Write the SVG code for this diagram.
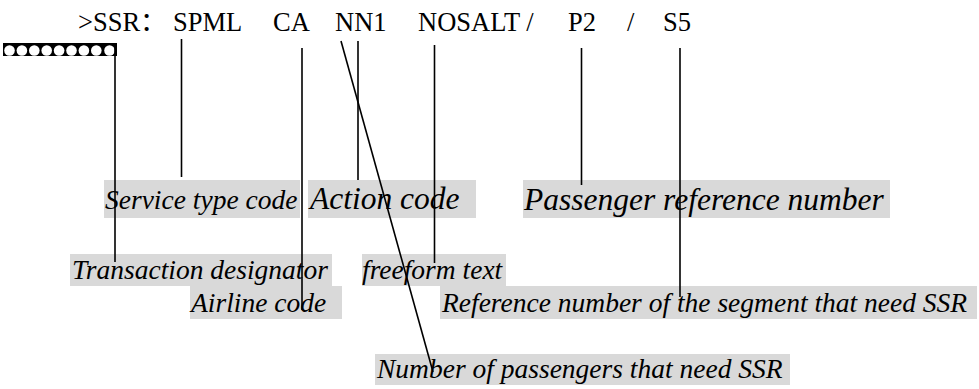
<svg xmlns="http://www.w3.org/2000/svg" width="979" height="389" viewBox="0 0 979 389">
  <style>
    .cmd { font-family: "Liberation Serif", "Times New Roman", "Noto Sans CJK SC", serif; font-size: 26.5px; fill: #000; }
    .lbl { font-family: "Liberation Serif", "Times New Roman", serif; font-style: italic; font-size: 27.5px; fill: #000; }
    .big { font-size: 31.5px; }
    .bg { fill: #d9d9d9; }
    .ln { stroke: #000; stroke-width: 1.6; fill: none; }
  </style>
  <rect width="979" height="389" fill="#fff"/>

  <g id="command">
    <text class="cmd" x="78" y="31">&gt;SSR：</text>
    <text class="cmd" x="173" y="31">SPML</text>
    <text class="cmd" x="273" y="31">CA</text>
    <text class="cmd" x="335" y="31">NN1</text>
    <text class="cmd" x="418" y="31">NOSALT /</text>
    <text class="cmd" x="568" y="31">P2</text>
    <text class="cmd" x="627" y="31">/</text>
    <text class="cmd" x="663" y="31">S5</text>
  </g>

  <g id="marker-row">
    <rect x="3" y="43" width="114" height="13" fill="#000"/>
    <g fill="#fff">
      <circle cx="9.5" cy="50.5" r="5.3"/>
      <circle cx="21.9" cy="50.5" r="5.3"/>
      <circle cx="34.3" cy="50.5" r="5.3"/>
      <circle cx="46.7" cy="50.5" r="5.3"/>
      <circle cx="59.1" cy="50.5" r="5.3"/>
      <circle cx="71.5" cy="50.5" r="5.3"/>
      <circle cx="83.9" cy="50.5" r="5.3"/>
      <circle cx="96.3" cy="50.5" r="5.3"/>
      <circle cx="109.5" cy="50.5" r="5.3"/>
    </g>
  </g>

  <g id="service-type-code">
    <rect class="bg" x="104" y="180" width="196" height="38"/>
    <text class="lbl" x="105" y="209">Service type code</text>
  </g>
  <g id="action-code">
    <rect class="bg" x="308" y="180" width="168" height="38"/>
    <text class="lbl big" x="310" y="209">Action code</text>
  </g>
  <g id="passenger-reference-number">
    <rect class="bg" x="523" y="180" width="367" height="38"/>
    <text class="lbl big" x="524" y="210">Passenger reference number</text>
  </g>
  <g id="transaction-designator">
    <rect class="bg" x="70" y="254" width="262" height="32"/>
    <text class="lbl" x="72" y="279">Transaction designator</text>
  </g>
  <g id="freeform-text">
    <rect class="bg" x="362" y="254" width="144" height="32"/>
    <text class="lbl" x="362" y="279">freeform text</text>
  </g>
  <g id="airline-code">
    <rect class="bg" x="190" y="286" width="152" height="33"/>
    <text class="lbl" x="191" y="312">Airline code</text>
  </g>
  <g id="segment-reference">
    <rect class="bg" x="440" y="286" width="537" height="33"/>
    <text class="lbl" x="442" y="312">Reference number of the segment that need SSR</text>
  </g>
  <g id="passenger-count">
    <rect class="bg" x="375" y="354" width="415" height="31"/>
    <text class="lbl" x="377" y="378">Number of passengers that need SSR</text>
  </g>

  <g id="connectors" class="ln">
    <line x1="115" y1="47" x2="115" y2="262"/>
    <line x1="181.5" y1="39" x2="181.5" y2="177"/>
    <line x1="302" y1="48" x2="302" y2="310"/>
    <line x1="358" y1="41" x2="358" y2="180"/>
    <line x1="341" y1="41" x2="433" y2="372"/>
    <line x1="434.5" y1="45" x2="434.5" y2="263"/>
    <line x1="581.5" y1="48" x2="581.5" y2="185"/>
    <line x1="680" y1="48" x2="680" y2="297"/>
  </g>
</svg>
